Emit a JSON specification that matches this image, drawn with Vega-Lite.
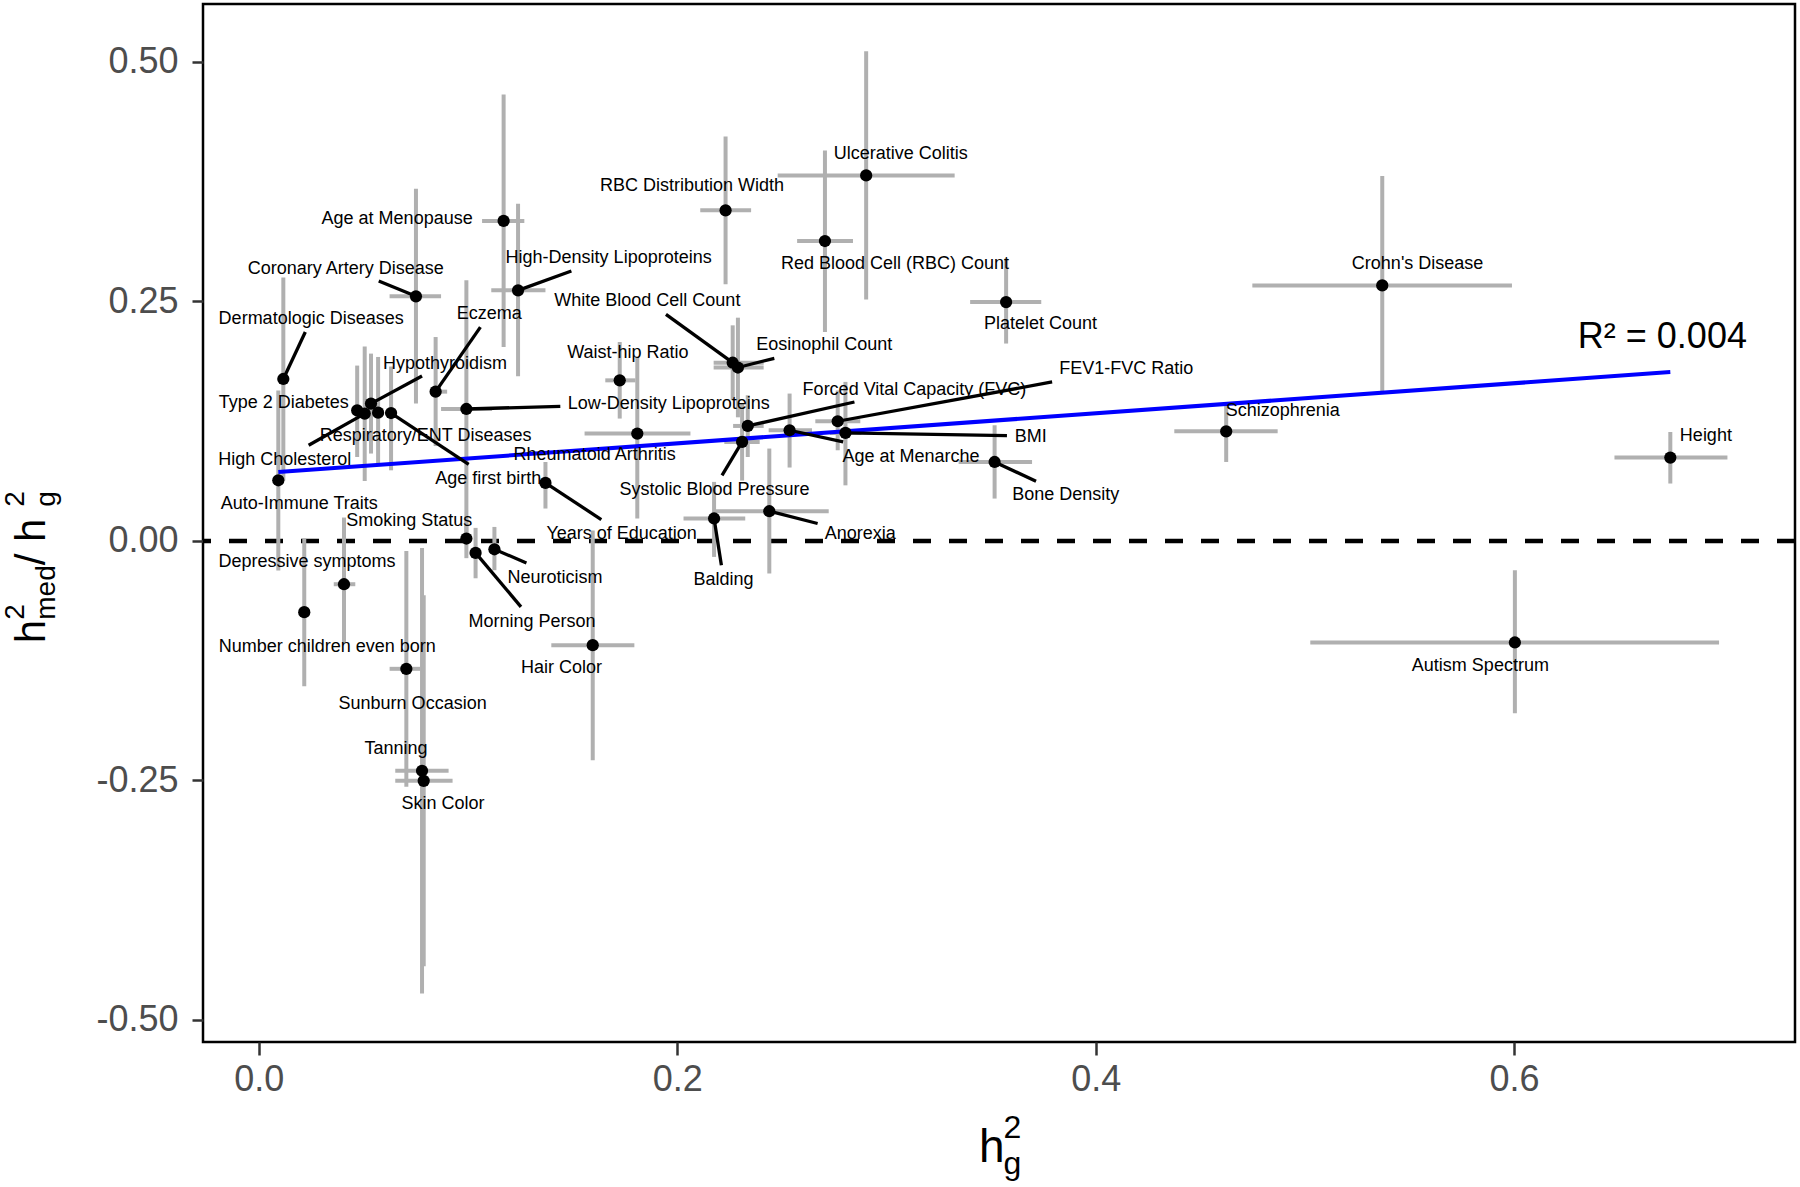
{
  "$schema": "https://vega.github.io/schema/vega-lite/v6.json",
  "width": 1592,
  "height": 1038,
  "autosize": {"type": "none"},
  "padding": {"left": 203, "top": 4, "right": 5, "bottom": 145},
  "background": "white",
  "config": {
    "view": {"stroke": "#000000", "strokeWidth": 2.5},
    "font": "Liberation Sans",
    "axis": {"domain": false, "grid": false, "labelFont": "Liberation Sans", "labelFontSize": 36, "labelColor": "#4D4D4D", "tickColor": "#333333", "tickWidth": 2.5, "title": null},
    "axisX": {"tickSize": 13, "labelPadding": 7},
    "axisY": {"tickSize": 11, "labelPadding": 14}
  },
  "datasets": {
    "traits": [
      {"trait": "Ulcerative Colitis", "h2g": 0.2903, "ratio": 0.3815, "xlo": 0.248, "xhi": 0.3326, "ylo": 0.252, "yhi": 0.511, "label_x": 0.3068, "label_y": 0.4041},
      {"trait": "RBC Distribution Width", "h2g": 0.2231, "ratio": 0.345, "xlo": 0.211, "xhi": 0.2353, "ylo": 0.2678, "yhi": 0.4222, "label_x": 0.2071, "label_y": 0.370},
      {"trait": "Red Blood Cell (RBC) Count", "h2g": 0.2706, "ratio": 0.313, "xlo": 0.2573, "xhi": 0.284, "ylo": 0.218, "yhi": 0.4076, "label_x": 0.3041, "label_y": 0.2887},
      {"trait": "Age at Menopause", "h2g": 0.117, "ratio": 0.334, "xlo": 0.1067, "xhi": 0.1269, "ylo": 0.2024, "yhi": 0.466, "label_x": 0.0661, "label_y": 0.3356},
      {"trait": "High-Density Lipoproteins", "h2g": 0.1239, "ratio": 0.2615, "xlo": 0.1111, "xhi": 0.137, "ylo": 0.1718, "yhi": 0.352, "label_x": 0.1672, "label_y": 0.2952, "seg_x": 0.1494, "seg_y": 0.2817},
      {"trait": "Coronary Artery Disease", "h2g": 0.0751, "ratio": 0.2553, "xlo": 0.0625, "xhi": 0.0871, "ylo": 0.1433, "yhi": 0.3676, "label_x": 0.0415, "label_y": 0.2841, "seg_x": 0.0573, "seg_y": 0.2712},
      {"trait": "Dermatologic Diseases", "h2g": 0.0117, "ratio": 0.169, "ylo": 0.063, "yhi": 0.275, "label_x": 0.025, "label_y": 0.2313, "seg_x": 0.0222, "seg_y": 0.218},
      {"trait": "Eczema", "h2g": 0.0845, "ratio": 0.1558, "xlo": 0.082, "xhi": 0.090, "ylo": 0.099, "yhi": 0.2128, "label_x": 0.1101, "label_y": 0.2365, "seg_x": 0.1059, "seg_y": 0.2232},
      {"trait": "Hypothyroidism", "h2g": 0.0536, "ratio": 0.1433, "ylo": 0.0912, "yhi": 0.1955, "label_x": 0.089, "label_y": 0.185, "seg_x": 0.078, "seg_y": 0.1721},
      {"trait": "Type 2 Diabetes", "h2g": 0.047, "ratio": 0.1363, "ylo": 0.0876, "yhi": 0.183, "label_x": 0.0119, "label_y": 0.1444},
      {"trait": "High Cholesterol", "h2g": 0.0506, "ratio": 0.1329, "ylo": 0.0626, "yhi": 0.203, "label_x": 0.0124, "label_y": 0.0849, "seg_x": 0.0238, "seg_y": 0.0998},
      {"trait": "Respiratory/ENT Diseases", "h2g": 0.057, "ratio": 0.1339, "ylo": 0.0807, "yhi": 0.192, "label_x": 0.0797, "label_y": 0.1092},
      {"trait": "Age first birth", "h2g": 0.0632, "ratio": 0.1335, "ylo": 0.0737, "yhi": 0.182, "label_x": 0.1097, "label_y": 0.0651, "seg_x": 0.1003, "seg_y": 0.08},
      {"trait": "Auto-Immune Traits", "h2g": 0.0093, "ratio": 0.0633, "ylo": -0.031, "yhi": 0.157, "label_x": 0.0193, "label_y": 0.0383},
      {"trait": "Smoking Status", "h2g": 0.0992, "ratio": 0.0025, "ylo": -0.018, "yhi": 0.023, "label_x": 0.0719, "label_y": 0.0209},
      {"trait": "Low-Density Lipoproteins", "h2g": 0.0992, "ratio": 0.1377, "xlo": 0.0871, "xhi": 0.1115, "ylo": 0.003, "yhi": 0.272, "label_x": 0.1959, "label_y": 0.1433, "seg_x": 0.1441, "seg_y": 0.1405},
      {"trait": "White Blood Cell Count", "h2g": 0.2265, "ratio": 0.186, "xlo": 0.2174, "xhi": 0.2413, "ylo": 0.147, "yhi": 0.225, "label_x": 0.1857, "label_y": 0.25, "seg_x": 0.1946, "seg_y": 0.2365},
      {"trait": "Eosinophil Count", "h2g": 0.229, "ratio": 0.181, "xlo": 0.2174, "xhi": 0.2413, "ylo": 0.129, "yhi": 0.233, "label_x": 0.2703, "label_y": 0.2049, "seg_x": 0.2464, "seg_y": 0.1906},
      {"trait": "Waist-hip Ratio", "h2g": 0.1725, "ratio": 0.1676, "xlo": 0.1656, "xhi": 0.18, "ylo": 0.1277, "yhi": 0.2076, "label_x": 0.1764, "label_y": 0.1961},
      {"trait": "Rheumatoid Arthritis", "h2g": 0.1809, "ratio": 0.112, "xlo": 0.1557, "xhi": 0.2063, "ylo": 0.0234, "yhi": 0.192, "label_x": 0.1605, "label_y": 0.0894},
      {"trait": "Forced Vital Capacity (FVC)", "h2g": 0.2337, "ratio": 0.12, "xlo": 0.2267, "xhi": 0.2413, "ylo": 0.0876, "yhi": 0.152, "label_x": 0.3134, "label_y": 0.1579, "seg_x": 0.2847, "seg_y": 0.145},
      {"trait": "Systolic Blood Pressure", "h2g": 0.231, "ratio": 0.1033, "xlo": 0.2225, "xhi": 0.2394, "ylo": 0.063, "yhi": 0.1436, "label_x": 0.2178, "label_y": 0.0529, "seg_x": 0.2214, "seg_y": 0.0685},
      {"trait": "Age at Menarche", "h2g": 0.2537, "ratio": 0.1155, "xlo": 0.2437, "xhi": 0.2644, "ylo": 0.0766, "yhi": 0.1538, "label_x": 0.3117, "label_y": 0.0876, "seg_x": 0.2793, "seg_y": 0.1033},
      {"trait": "FEV1-FVC Ratio", "h2g": 0.2767, "ratio": 0.1249, "xlo": 0.266, "xhi": 0.2875, "ylo": 0.0946, "yhi": 0.157, "label_x": 0.4146, "label_y": 0.1798, "seg_x": 0.3792, "seg_y": 0.1659},
      {"trait": "BMI", "h2g": 0.2804, "ratio": 0.1127, "xlo": 0.273, "xhi": 0.288, "ylo": 0.058, "yhi": 0.166, "label_x": 0.369, "label_y": 0.1085, "seg_x": 0.3576, "seg_y": 0.11},
      {"trait": "Balding", "h2g": 0.2176, "ratio": 0.0234, "xlo": 0.203, "xhi": 0.2325, "ylo": -0.0167, "yhi": 0.0616, "label_x": 0.2221, "label_y": -0.041, "seg_x": 0.2211, "seg_y": -0.0253},
      {"trait": "Anorexia", "h2g": 0.244, "ratio": 0.031, "xlo": 0.2174, "xhi": 0.2724, "ylo": -0.034, "yhi": 0.0964, "label_x": 0.2875, "label_y": 0.0067, "seg_x": 0.2671, "seg_y": 0.0182},
      {"trait": "Years of Education", "h2g": 0.137, "ratio": 0.0605, "ylo": 0.0338, "yhi": 0.0824, "label_x": 0.1734, "label_y": 0.0067, "seg_x": 0.1637, "seg_y": 0.0223},
      {"trait": "Hair Color", "h2g": 0.1596, "ratio": -0.1088, "xlo": 0.1398, "xhi": 0.1795, "ylo": -0.229, "yhi": 0.011, "label_x": 0.1447, "label_y": -0.1331},
      {"trait": "Neuroticism", "h2g": 0.1126, "ratio": -0.0087, "ylo": -0.0306, "yhi": 0.0146, "label_x": 0.1416, "label_y": -0.0392, "seg_x": 0.1279, "seg_y": -0.023},
      {"trait": "Morning Person", "h2g": 0.1036, "ratio": -0.0125, "ylo": -0.039, "yhi": 0.0136, "label_x": 0.1306, "label_y": -0.0845, "seg_x": 0.1253, "seg_y": -0.0688},
      {"trait": "Depressive symptoms", "h2g": 0.0407, "ratio": -0.0452, "xlo": 0.0358, "xhi": 0.0461, "ylo": -0.107, "yhi": 0.0244, "label_x": 0.023, "label_y": -0.0219},
      {"trait": "Number children even born", "h2g": 0.0217, "ratio": -0.0744, "ylo": -0.1516, "yhi": 0.0025, "label_x": 0.0327, "label_y": -0.1106},
      {"trait": "Sunburn Occasion", "h2g": 0.0705, "ratio": -0.1335, "xlo": 0.0625, "xhi": 0.0772, "ylo": -0.2566, "yhi": -0.0104, "label_x": 0.0735, "label_y": -0.1704},
      {"trait": "Tanning", "h2g": 0.078, "ratio": -0.2399, "xlo": 0.0652, "xhi": 0.0907, "ylo": -0.4725, "yhi": -0.0073, "label_x": 0.0656, "label_y": -0.2176},
      {"trait": "Skin Color", "h2g": 0.0788, "ratio": -0.2504, "xlo": 0.0652, "xhi": 0.0926, "ylo": -0.444, "yhi": -0.0566, "label_x": 0.088, "label_y": -0.2747},
      {"trait": "Autism Spectrum", "h2g": 0.6004, "ratio": -0.106, "xlo": 0.5026, "xhi": 0.698, "ylo": -0.18, "yhi": -0.0306, "label_x": 0.5839, "label_y": -0.1304},
      {"trait": "Crohn's Disease", "h2g": 0.537, "ratio": 0.2667, "xlo": 0.4749, "xhi": 0.599, "ylo": 0.1555, "yhi": 0.381, "label_x": 0.5539, "label_y": 0.2894},
      {"trait": "Schizophrenia", "h2g": 0.4624, "ratio": 0.1144, "xlo": 0.4376, "xhi": 0.487, "ylo": 0.0824, "yhi": 0.145, "label_x": 0.4894, "label_y": 0.1356},
      {"trait": "Height", "h2g": 0.6747, "ratio": 0.087, "xlo": 0.648, "xhi": 0.702, "ylo": 0.0599, "yhi": 0.1137, "label_x": 0.6917, "label_y": 0.1092},
      {"trait": "Platelet Count", "h2g": 0.3572, "ratio": 0.2493, "xlo": 0.34, "xhi": 0.374, "ylo": 0.206, "yhi": 0.2946, "label_x": 0.3736, "label_y": 0.226},
      {"trait": "Bone Density", "h2g": 0.3517, "ratio": 0.0824, "xlo": 0.3345, "xhi": 0.3696, "ylo": 0.0442, "yhi": 0.1207, "label_x": 0.3857, "label_y": 0.0477, "seg_x": 0.3715, "seg_y": 0.0623}
    ],
    "fit": [
      {"h2g": 0.0093, "ratio": 0.0719},
      {"h2g": 0.6747, "ratio": 0.1763}
    ]
  },
  "data": {"name": "traits"},
  "layer": [
    {
      "data": {"values": [{}]},
      "mark": {"type": "rule", "color": "#000000", "strokeWidth": 4.5, "strokeDash": [18, 18]},
      "encoding": {
        "y": {"datum": 0, "type": "quantitative", "scale": {"domain": [-0.523, 0.5604], "nice": false, "zero": false},
          "axis": {"values": [-0.5, -0.25, 0, 0.25, 0.5], "labelExpr": "datum.value < 0 ? '-' + format(-datum.value, '.2f') : format(datum.value, '.2f')", "title": null}}
      }
    },
    {
      "mark": {"type": "rule", "color": "#B0B0B0", "strokeWidth": 4},
      "encoding": {
        "x": {"field": "h2g", "type": "quantitative", "scale": {"domain": [-0.0267, 0.7343], "nice": false, "zero": false},
          "axis": {"values": [0, 0.2, 0.4, 0.6], "format": ".1f", "title": null}},
        "y": {"field": "ylo", "type": "quantitative"},
        "y2": {"field": "yhi"}
      }
    },
    {
      "transform": [{"filter": "isValid(datum.xlo)"}],
      "mark": {"type": "rule", "color": "#B0B0B0", "strokeWidth": 4},
      "encoding": {
        "x": {"field": "xlo", "type": "quantitative"},
        "x2": {"field": "xhi"},
        "y": {"field": "ratio", "type": "quantitative"}
      }
    },
    {
      "data": {"name": "fit"},
      "mark": {"type": "line", "color": "#0000FF", "strokeWidth": 4},
      "encoding": {
        "x": {"field": "h2g", "type": "quantitative"},
        "y": {"field": "ratio", "type": "quantitative"}
      }
    },
    {
      "transform": [{"filter": "isValid(datum.seg_x)"}],
      "mark": {"type": "rule", "color": "#000000", "strokeWidth": 3.3},
      "encoding": {
        "x": {"field": "h2g", "type": "quantitative"},
        "y": {"field": "ratio", "type": "quantitative"},
        "x2": {"field": "seg_x"},
        "y2": {"field": "seg_y"}
      }
    },
    {
      "mark": {"type": "circle", "color": "#000000", "opacity": 1, "size": 150},
      "encoding": {
        "x": {"field": "h2g", "type": "quantitative"},
        "y": {"field": "ratio", "type": "quantitative"}
      }
    },
    {
      "mark": {"type": "text", "font": "Liberation Sans", "fontSize": 18, "color": "#000000", "align": "center", "baseline": "middle"},
      "encoding": {
        "x": {"field": "label_x", "type": "quantitative"},
        "y": {"field": "label_y", "type": "quantitative"},
        "text": {"field": "trait"}
      }
    },
    {
      "data": {"values": [{}]},
      "mark": {"type": "text", "font": "Liberation Sans", "fontSize": 36, "color": "#000000", "align": "center", "baseline": "middle"},
      "encoding": {"x": {"datum": 0.6709}, "y": {"datum": 0.2128}, "text": {"value": "R² = 0.004"}}
    },
    {
      "data": {"values": [{}]},
      "mark": {"type": "text", "font": "Liberation Sans", "fontSize": 46, "color": "#000000", "align": "left", "baseline": "alphabetic"},
      "encoding": {"x": {"datum": 0.3442}, "y": {"datum": -0.6482}, "text": {"value": "h"}}
    },
    {
      "data": {"values": [{}]},
      "mark": {"type": "text", "font": "Liberation Sans", "fontSize": 32, "color": "#000000", "align": "left", "baseline": "alphabetic"},
      "encoding": {"x": {"datum": 0.3559}, "y": {"datum": -0.6231}, "text": {"value": "2"}}
    },
    {
      "data": {"values": [{}]},
      "mark": {"type": "text", "font": "Liberation Sans", "fontSize": 32, "color": "#000000", "align": "left", "baseline": "alphabetic"},
      "encoding": {"x": {"datum": 0.3559}, "y": {"datum": -0.6607}, "text": {"value": "g"}}
    },
    {
      "data": {"values": [{}]},
      "mark": {"type": "text", "font": "Liberation Sans", "fontSize": 42, "color": "#000000", "align": "left", "baseline": "alphabetic", "angle": 270},
      "encoding": {"x": {"datum": -0.102}, "y": {"datum": -0.1069}, "text": {"value": "h"}}
    },
    {
      "data": {"values": [{}]},
      "mark": {"type": "text", "font": "Liberation Sans", "fontSize": 28, "color": "#000000", "align": "left", "baseline": "alphabetic", "angle": 270},
      "encoding": {"x": {"datum": -0.1121}, "y": {"datum": -0.0823}, "text": {"value": "2"}}
    },
    {
      "data": {"values": [{}]},
      "mark": {"type": "text", "font": "Liberation Sans", "fontSize": 28, "color": "#000000", "align": "left", "baseline": "alphabetic", "angle": 270},
      "encoding": {"x": {"datum": -0.0973}, "y": {"datum": -0.0823}, "text": {"value": "med"}}
    },
    {
      "data": {"values": [{}]},
      "mark": {"type": "text", "font": "Liberation Sans", "fontSize": 42, "color": "#000000", "align": "left", "baseline": "alphabetic", "angle": 270},
      "encoding": {"x": {"datum": -0.102}, "y": {"datum": -0.0254}, "text": {"value": " / h"}}
    },
    {
      "data": {"values": [{}]},
      "mark": {"type": "text", "font": "Liberation Sans", "fontSize": 28, "color": "#000000", "align": "left", "baseline": "alphabetic", "angle": 270},
      "encoding": {"x": {"datum": -0.1121}, "y": {"datum": 0.0356}, "text": {"value": "2"}}
    },
    {
      "data": {"values": [{}]},
      "mark": {"type": "text", "font": "Liberation Sans", "fontSize": 28, "color": "#000000", "align": "left", "baseline": "alphabetic", "angle": 270},
      "encoding": {"x": {"datum": -0.0973}, "y": {"datum": 0.0356}, "text": {"value": "g"}}
    }
  ]
}
